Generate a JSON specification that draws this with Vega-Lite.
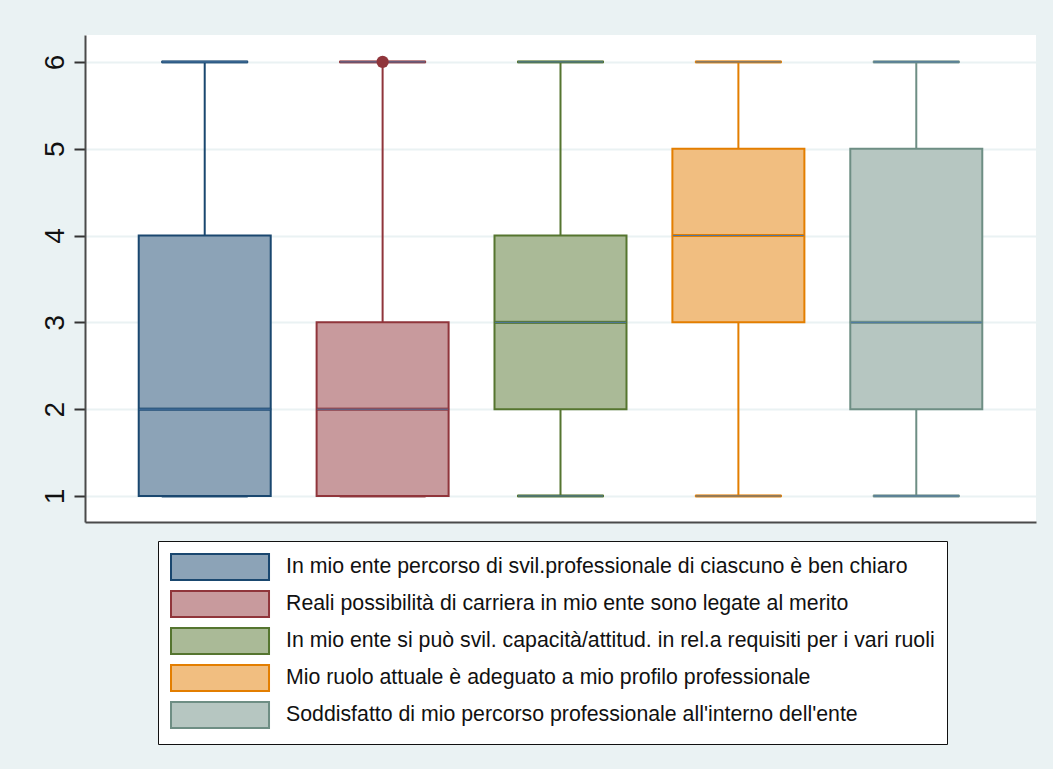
{
  "$schema": "https://vega.github.io/schema/vega-lite/v6.json",
  "width": 951,
  "height": 487,
  "autosize": {"type": "none"},
  "padding": {"left": 85, "top": 35, "right": 17, "bottom": 247},
  "background": "#EAF2F3",
  "config": {
    "view": {"fill": "white", "stroke": null},
    "font": "Liberation Sans",
    "legend": {
      "orient": "none",
      "legendX": 73,
      "legendY": 506,
      "padding": 12,
      "strokeColor": "#111111",
      "fillColor": "white",
      "symbolType": "M-1,-1H6.54V1H-1Z",
      "symbolSize": 676,
      "symbolStrokeWidth": 2,
      "symbolOpacity": 1,
      "labelFontSize": 21.3,
      "labelFont": "Liberation Sans",
      "labelColor": "#111111",
      "labelLimit": 0,
      "labelOffset": 88,
      "rowPadding": 3
    }
  },
  "datasets": {
    "stats": [
      {"q": "In mio ente percorso di svil.professionale di ciascuno è ben chiaro", "lower": 1, "q1": 1, "median": 2, "q3": 4, "upper": 6},
      {"q": "Reali possibilità di carriera in mio ente sono legate al merito", "lower": 1, "q1": 1, "median": 2, "q3": 3, "upper": 6},
      {"q": "In mio ente si può svil. capacità/attitud. in rel.a requisiti per i vari ruoli", "lower": 1, "q1": 2, "median": 3, "q3": 4, "upper": 6},
      {"q": "Mio ruolo attuale è adeguato a mio profilo professionale", "lower": 1, "q1": 3, "median": 4, "q3": 5, "upper": 6},
      {"q": "Soddisfatto di mio percorso professionale all'interno dell'ente", "lower": 1, "q1": 2, "median": 3, "q3": 5, "upper": 6}
    ],
    "outliers": [
      {"q": "Reali possibilità di carriera in mio ente sono legate al merito", "value": 6}
    ]
  },
  "encoding": {
    "x": {
      "field": "q",
      "type": "nominal",
      "scale": {
        "domain": [
          "In mio ente percorso di svil.professionale di ciascuno è ben chiaro",
          "Reali possibilità di carriera in mio ente sono legate al merito",
          "In mio ente si può svil. capacità/attitud. in rel.a requisiti per i vari ruoli",
          "Mio ruolo attuale è adeguato a mio profilo professionale",
          "Soddisfatto di mio percorso professionale all'interno dell'ente"
        ],
        "paddingInner": 0,
        "paddingOuter": 0.173
      },
      "axis": {
        "title": null,
        "labels": false,
        "ticks": false,
        "grid": false,
        "domainColor": "#4a4a4a",
        "domainWidth": 2
      }
    }
  },
  "layer": [
    {
      "data": {"name": "stats"},
      "mark": {"type": "rule", "strokeWidth": 2, "opacity": 1},
      "encoding": {
        "y": {
          "field": "lower",
          "type": "quantitative",
          "scale": {"domain": [0.7, 6.31], "nice": false, "zero": false},
          "axis": {
            "title": null,
            "values": [1, 2, 3, 4, 5, 6],
            "format": "d",
            "labelAngle": -90,
            "labelFontSize": 28,
            "labelColor": "#111111",
            "labelPadding": 5,
            "tickSize": 11,
            "tickWidth": 2,
            "tickColor": "#333333",
            "domainColor": "#4a4a4a",
            "domainWidth": 2,
            "grid": true,
            "gridColor": "#EAF2F3",
            "gridWidth": 2
          }
        },
        "y2": {"field": "upper"},
        "stroke": {
          "field": "q",
          "type": "nominal",
          "scale": {
            "domain": [
              "In mio ente percorso di svil.professionale di ciascuno è ben chiaro",
              "Reali possibilità di carriera in mio ente sono legate al merito",
              "In mio ente si può svil. capacità/attitud. in rel.a requisiti per i vari ruoli",
              "Mio ruolo attuale è adeguato a mio profilo professionale",
              "Soddisfatto di mio percorso professionale all'interno dell'ente"
            ],
            "range": ["#1a476f", "#90353b", "#55752f", "#e37e00", "#6e8e84"]
          },
          "title": null
        }
      }
    },
    {
      "data": {"name": "stats"},
      "mark": {"type": "tick", "size": 86, "thickness": 2, "opacity": 1},
      "encoding": {
        "y": {"field": "upper", "type": "quantitative"},
        "stroke": {"field": "q", "type": "nominal", "title": null}
      }
    },
    {
      "data": {"name": "stats"},
      "mark": {"type": "tick", "size": 86, "thickness": 2, "opacity": 1},
      "encoding": {
        "y": {"field": "lower", "type": "quantitative"},
        "stroke": {"field": "q", "type": "nominal", "title": null}
      }
    },
    {
      "data": {"name": "stats"},
      "mark": {"type": "bar", "size": 132, "strokeWidth": 2, "opacity": 1},
      "encoding": {
        "y": {"field": "q1", "type": "quantitative"},
        "y2": {"field": "q3"},
        "fill": {
          "field": "q",
          "type": "nominal",
          "title": null,
          "scale": {
            "domain": [
              "In mio ente percorso di svil.professionale di ciascuno è ben chiaro",
              "Reali possibilità di carriera in mio ente sono legate al merito",
              "In mio ente si può svil. capacità/attitud. in rel.a requisiti per i vari ruoli",
              "Mio ruolo attuale è adeguato a mio profilo professionale",
              "Soddisfatto di mio percorso professionale all'interno dell'ente"
            ],
            "range": ["#8ca3b7", "#c89a9d", "#aaba97", "#f1be80", "#b6c6c1"]
          }
        },
        "stroke": {"field": "q", "type": "nominal", "title": null}
      }
    },
    {
      "data": {"name": "stats"},
      "mark": {"type": "tick", "size": 132, "thickness": 2, "opacity": 1},
      "encoding": {
        "y": {"field": "median", "type": "quantitative"},
        "stroke": {"field": "q", "type": "nominal", "title": null}
      }
    },
    {
      "data": {"name": "outliers"},
      "mark": {"type": "point", "filled": true, "size": 150, "color": "#90353b", "opacity": 1},
      "encoding": {
        "y": {"field": "value", "type": "quantitative"}
      }
    }
  ]
}
